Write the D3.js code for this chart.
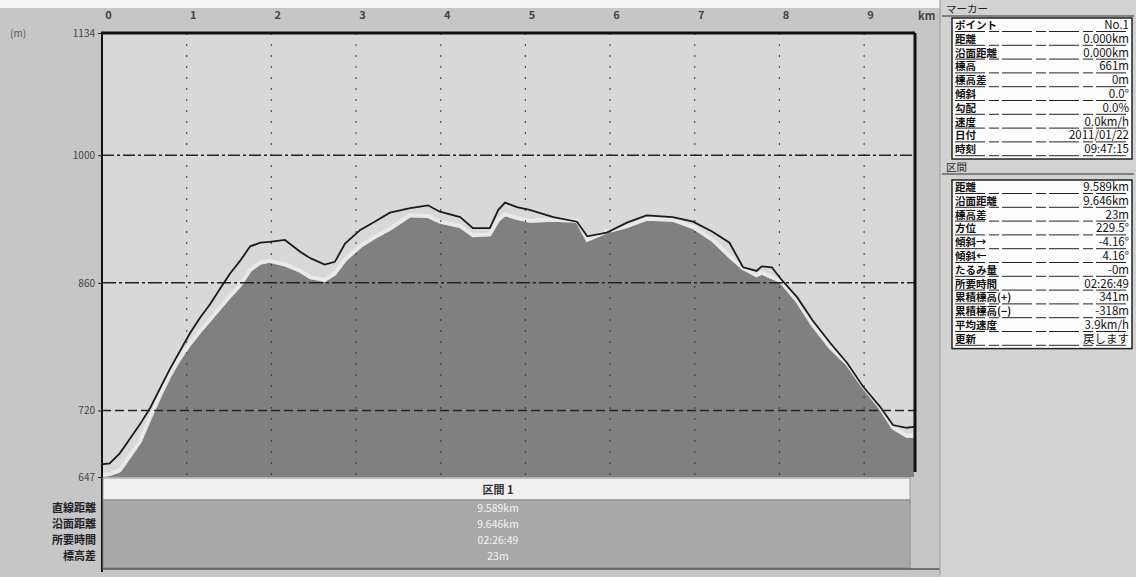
<!DOCTYPE html>
<html><head><meta charset="utf-8">
<script src="https://cdn.jsdelivr.net/npm/d3@7"></script>
<style>
html,body{margin:0;padding:0;background:#c9c9c9;}
svg{display:block;}
text{font-family:"Noto Sans CJK JP","Noto Sans",sans-serif;}
</style></head><body>
<svg id="c" width="1136" height="577"></svg>
<script>
// ---- data ----
const distKm = [0.00,0.09,0.21,0.33,0.45,0.57,0.69,0.80,0.92,1.04,1.16,1.28,1.39,1.51,1.63,1.75,1.87,1.98,2.16,2.34,2.46,2.63,2.75,2.87,3.05,3.22,3.40,3.64,3.85,3.99,4.23,4.38,4.58,4.68,4.76,4.90,5.05,5.33,5.61,5.73,5.96,6.20,6.43,6.74,6.98,7.21,7.41,7.57,7.73,7.79,7.91,8.01,8.21,8.39,8.60,8.80,8.99,9.19,9.34,9.50,9.589];
const gpsElev = [661,662,673,689,705,723,745,765,785,805,822,837,853,870,884,900,904,905,907,894,887,880,883,903,918,927,937,942,945,938,932,920,920,940,948,943,940,932,927,911,915,926,934,932,927,916,904,877,873,878,877,865,844,819,794,772,746,724,704,701,702];
const demElev = [647,648,652,668,684,710,735,756,775,791,805,818,830,843,855,872,880,882,878,871,864,861,868,883,898,908,917,932,931,925,920,910,911,927,933,929,926,927,926,905,914,920,928,927,919,905,887,874,866,869,864,860,838,812,787,769,744,721,699,690,690];
const yTickValues = [1134,1000,860,720,647];
const xTickValues = [0,1,2,3,4,5,6,7,8,9];
const xUnit = "km";
const yUnit = "(m)";
const sectionTitle = "区間 1";
const bandLabels = ["直線距離","沿面距離","所要時間","標高差"];
const bandValues = ["9.589km","9.646km","02:26:49","23m"];
const markerTitle = "マーカー";
const markerLabels = ["ポイント","距離","沿面距離","標高","標高差","傾斜","勾配","速度","日付","時刻"];
const markerValues = ["No.1","0.000km","0.000km","661m","0m","0.0°","0.0%","0.0km/h","2011/01/22","09:47:15"];
const rangeTitle = "区間";
const rangeLabels = ["距離","沿面距離","標高差","方位","傾斜→","傾斜←","たるみ量","所要時間","累積標高(+)","累積標高(−)","平均速度","更新"];
const rangeValues = ["9.589km","9.646km","23m","229.5°","-4.16°","4.16°","-0m","02:26:49","341m","-318m","3.9km/h","戻します"];

// ---- drawing ----
const svg = d3.select("#c");
const W = 1136, H = 577;
const L = 102, R = 914, T = 33, B = 477;
const x = d3.scaleLinear().domain([0, 9.589]).range([L, R]);
const y = d3.scaleLinear().domain([647, 1134]).range([B, T]);

svg.append("rect").attr("width", W).attr("height", H).attr("fill", "#c6c6c6");
svg.append("rect").attr("x", 0).attr("y", 0).attr("width", 940).attr("height", 8).attr("fill", "#f4f4f4");
svg.append("rect").attr("x", L).attr("y", T).attr("width", R - L).attr("height", B - T).attr("fill", "#d8d8d8");

const pts = distKm.map((d, i) => ({d, g: gpsElev[i], m: demElev[i]}));
const area = d3.area().x(p => x(p.d)).y0(B).y1(p => y(p.m));
svg.append("path").datum(pts).attr("d", area).attr("fill", "#808080");
svg.append("path").datum(pts)
  .attr("d", d3.line().x(p => x(p.d)).y(p => y(p.m) - 2))
  .attr("fill", "none").attr("stroke", "#ececec").attr("stroke-width", 4).attr("opacity", 0.85);

// grid lines
const g = svg.append("g");
g.selectAll("line.v").data(xTickValues.filter(v => v > 0)).join("line")
  .attr("x1", d => x(d)).attr("x2", d => x(d)).attr("y1", T).attr("y2", B)
  .attr("stroke", "#333").attr("stroke-width", 1.2).attr("stroke-dasharray", "2,9").attr("opacity", 0.8);
const hStyles = {1000: "12,3,3,3", 860: "14,3,3,3", 720: "9,4"};
g.selectAll("line.h").data(yTickValues.filter(v => v !== 1134 && v !== 647)).join("line")
  .attr("x1", L).attr("x2", R).attr("y1", d => y(d)).attr("y2", d => y(d))
  .attr("stroke", "#222").attr("stroke-width", 1.5).attr("stroke-dasharray", d => hStyles[d]);

// profile line
svg.append("path").datum(pts)
  .attr("d", d3.line().x(p => x(p.d)).y(p => y(p.g)))
  .attr("fill", "none").attr("stroke", "#1a1a1a").attr("stroke-width", 1.8);

// frame
svg.append("line").attr("x1", L - 1).attr("x2", R + 1).attr("y1", T).attr("y2", T).attr("stroke", "#111").attr("stroke-width", 3);
svg.append("line").attr("x1", L).attr("x2", L).attr("y1", T).attr("y2", 572).attr("stroke", "#111").attr("stroke-width", 2);
svg.append("line").attr("x1", R + 1).attr("x2", R + 1).attr("y1", T).attr("y2", B - 5).attr("stroke", "#111").attr("stroke-width", 3);

// axes labels
const yAxis = d3.axisLeft(y).tickValues(yTickValues).tickSize(4).tickFormat(d3.format("d"));
const ya = svg.append("g").attr("transform", `translate(${L},0)`).call(yAxis);
ya.select(".domain").remove();
ya.selectAll("line").attr("stroke", "#222");
ya.selectAll("text").attr("fill", "#444").attr("font-size", 10).attr("font-family", "Liberation Sans, sans-serif");
svg.append("text").attr("x", 10).attr("y", 37).attr("font-size", 10).attr("fill", "#555").text(yUnit);

const xAxis = d3.axisTop(x).tickValues(xTickValues).tickSize(0).tickFormat(d3.format("d"));
const xa = svg.append("g").attr("transform", `translate(6,${T - 11})`).call(xAxis);
xa.select(".domain").remove();
xa.selectAll("text").attr("fill", "#444").attr("font-size", 11).attr("font-weight", "bold").attr("font-family", "Liberation Sans, sans-serif");
svg.append("text").attr("x", R + 4).attr("y", T - 13).attr("font-size", 11).attr("fill", "#444").attr("font-weight", "bold").attr("font-family", "Liberation Sans, sans-serif").text(xUnit);

// band below the plot
svg.append("rect").attr("x", L + 1).attr("y", B + 1).attr("width", R - L - 5).attr("height", 22).attr("fill", "#efefef").attr("stroke", "#999");
svg.append("text").attr("x", 498).attr("y", B + 17).attr("text-anchor", "middle").attr("font-size", 11).attr("font-weight", "bold").attr("fill", "#333").text(sectionTitle);
svg.append("rect").attr("x", L + 1).attr("y", 500).attr("width", R - L - 5).attr("height", 68).attr("fill", "#a8a8a8").attr("stroke", "#888");
svg.append("line").attr("x1", L).attr("x2", 940).attr("y1", 569).attr("y2", 569).attr("stroke", "#555").attr("stroke-width", 1.5);
const rowY = d3.scalePoint().domain(d3.range(bandLabels.length)).range([512, 560]);
svg.selectAll("text.bl").data(bandLabels).join("text")
  .attr("x", 96).attr("y", (d, i) => rowY(i)).attr("text-anchor", "end")
  .attr("font-size", 11).attr("font-weight", "bold").attr("fill", "#222").text(d => d);
svg.selectAll("text.bv").data(bandValues).join("text")
  .attr("x", 498).attr("y", (d, i) => rowY(i)).attr("text-anchor", "middle")
  .attr("font-size", 10.5).attr("fill", "#f4f4f4").attr("font-family", "Liberation Mono, monospace").text(d => d);

// right panel
svg.append("rect").attr("x", 940).attr("y", 0).attr("width", 196).attr("height", H).attr("fill", "#d2d2d2");
svg.append("line").attr("x1", 940).attr("x2", 940).attr("y1", 0).attr("y2", 575).attr("stroke", "#999");
function table(title, titleY, labels, values, y0, step) {
  svg.append("text").attr("x", 946).attr("y", titleY).attr("font-size", 10.5).attr("fill", "#222").text(title);
  svg.append("line").attr("x1", 942).attr("x2", 1134).attr("y1", titleY + 3).attr("y2", titleY + 3).attr("stroke", "#333").attr("stroke-width", 1.2);
  const top = y0 - 11, h = step * labels.length + 3;
  svg.append("rect").attr("x", 952).attr("y", top).attr("width", 180).attr("height", h).attr("fill", "#fdfdfd").attr("stroke", "#222").attr("stroke-width", 1.5);
  const ys = labels.map((d, i) => y0 + i * step);
  svg.selectAll(null).data(labels).join("text")
    .attr("x", 955).attr("y", (d, i) => ys[i]).attr("font-size", 10.5).attr("font-weight", "bold").attr("fill", "#111").text(d => d);
  svg.selectAll(null).data(values).join("text")
    .attr("x", 1129).attr("y", (d, i) => ys[i]).attr("text-anchor", "end").attr("font-size", 11.5)
    .attr("font-family", "Liberation Mono, monospace").attr("fill", "#111").text(d => d);
  svg.selectAll(null).data(labels).join("line")
    .attr("x1", 955).attr("x2", 1129).attr("y1", (d, i) => ys[i] + 2.5).attr("y2", (d, i) => ys[i] + 2.5)
    .attr("stroke", "#222").attr("stroke-width", 1).attr("stroke-dasharray", "30,4,10,3");
}
table(markerTitle, 13, markerLabels, markerValues, 29, 13.8);
table(rangeTitle, 171, rangeLabels, rangeValues, 191, 13.8);
</script>
</body></html>
